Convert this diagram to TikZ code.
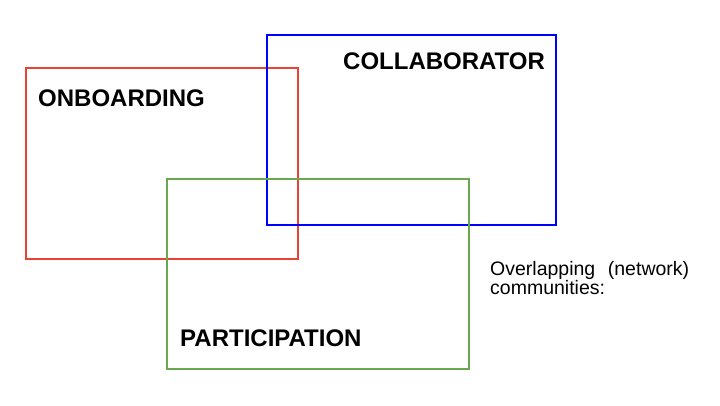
\documentclass[tikz,border=0pt]{standalone}
\usepackage{fontspec}
\setmainfont{Liberation Sans}
\usepackage{xcolor}
\definecolor{onbred}{RGB}{234,67,53}
\definecolor{colblue}{RGB}{0,0,255}
\definecolor{pargreen}{RGB}{106,168,79}
\tikzset{
  ring/.style={line width=2pt},
  title/.style={font=\fontsize{24}{28}\selectfont\bfseries, inner sep=0pt, anchor=base west},
  note/.style={font=\fontsize{19.5}{19.5}\selectfont, inner sep=0pt, anchor=base west,
    text width=199pt, align=justify}
}
\hyphenpenalty=10000
\begin{document}
\begin{tikzpicture}[x=1pt,y=-1pt]
  \useasboundingbox (0,0) rectangle (720,405);
  % the three communities
  \draw[ring, onbred] (26,68) rectangle (298,259);
  \draw[ring, colblue] (267,35) rectangle (556,225);
  \draw[ring, pargreen] (167,179) rectangle (469,369);
  \node[title] (onboarding) at (38,106) {ONBOARDING};
  \node[title] (collaborator) at (343,69) {COLLABORATOR};
  \node[title] (participation) at (180,346) {PARTICIPATION};
  \node[note] (caption) at (490,275) {Overlapping (network) communities:};
\end{tikzpicture}
\end{document}
